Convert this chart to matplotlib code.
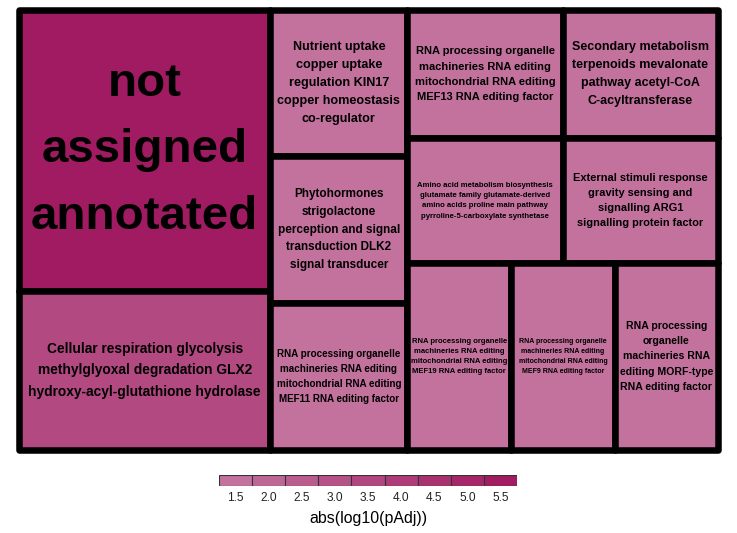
import matplotlib
matplotlib.use("Agg")
import matplotlib.pyplot as plt
from matplotlib.patches import Rectangle
from matplotlib.colors import LinearSegmentedColormap, Normalize

# tile labels (wrapped as in the figure), tile areas and abs(log10(pAdj))
labels = [
    "not\nassigned\nannotated",
    "Cellular respiration glycolysis\nmethylglyoxal degradation GLX2\nhydroxy-acyl-glutathione hydrolase",
    "Nutrient uptake\ncopper uptake\nregulation KIN17\ncopper homeostasis\nco-regulator",
    "Phytohormones\nstrigolactone\nperception and signal\ntransduction DLK2\nsignal transducer",
    "RNA processing organelle\nmachineries RNA editing\nmitochondrial RNA editing\nMEF11 RNA editing factor",
    "RNA processing organelle\nmachineries RNA editing\nmitochondrial RNA editing\nMEF13 RNA editing factor",
    "Secondary metabolism\nterpenoids mevalonate\npathway acetyl-CoA\nC-acyltransferase",
    "Amino acid metabolism biosynthesis\nglutamate family glutamate-derived\namino acids proline main pathway\npyrroline-5-carboxylate synthetase",
    "External stimuli response\ngravity sensing and\nsignalling ARG1\nsignalling protein factor",
    "RNA processing organelle\nmachineries RNA editing\nmitochondrial RNA editing\nMEF19 RNA editing factor",
    "RNA processing organelle\nmachineries RNA editing\nmitochondrial RNA editing\nMEF9 RNA editing factor",
    "RNA processing\norganelle\nmachineries RNA\nediting MORF-type\nRNA editing factor",
]
areas = [70.5, 39.9, 20.0, 20.1, 20.1, 19.9, 19.9, 19.3, 19.3, 19.4, 19.3, 19.3]
pvals = [5.55, 3.4, 1.5, 1.5, 1.5, 1.5, 1.5, 1.5, 1.5, 1.5, 1.5, 1.5]
breaks = [1.5, 2.0, 2.5, 3.0, 3.5, 4.0, 4.5, 5.0, 5.5]

# label font sizes (pt), fitted by eye per tile
label_pt = [34.2, 9.9, 9.1, 8.5, 7.1, 8.0, 9.0, 5.6, 7.9, 5.5, 5.0, 7.6]


def worst(row, side):
    s = sum(row)
    return max(max(side * side * r / (s * s), s * s / (side * side * r)) for r in row)


def squarify(vals, x, y, w, h):
    scale = w * h / sum(vals)
    a = [v * scale for v in vals]
    out = []
    i = 0
    while i < len(a):
        side = min(w, h)
        row = [a[i]]
        j = i + 1
        while j < len(a) and worst(row + [a[j]], side) <= worst(row, side):
            row.append(a[j])
            j += 1
        s = sum(row)
        if w >= h:
            cw = s / h
            yy = y
            for r in row:
                out.append((x, yy, cw, r / cw))
                yy += r / cw
            x += cw
            w -= cw
        else:
            rh = s / w
            xx = x
            for r in row:
                out.append((xx, y, r / rh, rh))
                xx += r / rh
            y += rh
            h -= rh
        i = j
    return out


cmap = LinearSegmentedColormap.from_list("pink", ["#c3739e", "#a01a60"])
norm = Normalize(vmin=1.45, vmax=5.6)

fig = plt.figure(figsize=(7.37, 5.33), dpi=100)
pos = [19 / 737, 83 / 533, 699 / 737, 440 / 533]
ax = fig.add_axes(pos)
W = pos[2] * 737
H = pos[3] * 533
ax.set_xlim(0, W)
ax.set_ylim(H, 0)
ax.axis("off")

for (x, y, w, h), lab, v, fs in zip(squarify(areas, 0, 0, W, H), labels, pvals, label_pt):
    ax.add_patch(Rectangle((x, y), w, h, facecolor=cmap(norm(v)), edgecolor="black",
                           linewidth=4.7, joinstyle="round", clip_on=False))
    ax.text(x + w / 2, y + h / 2, lab, ha="center", va="center", multialignment="center",
            fontsize=fs, fontweight="bold", family="Liberation Sans", linespacing=1.65,
            color="black")

# legend keys
lax = fig.add_axes([219 / 737, 47 / 533, 298 / 737, 11 / 533])
for i, b in enumerate(breaks):
    lax.add_patch(Rectangle((i, 0), 1, 1, facecolor=cmap(norm(b)), edgecolor="#333333",
                            linewidth=0.8))
lax.set_xlim(0, len(breaks))
lax.set_ylim(0, 1)
lax.set_xticks([i + 0.5 for i in range(len(breaks))])
lax.set_xticklabels([f"{b:.1f}" for b in breaks], family="Liberation Sans", fontsize=8.6,
                    color="#222222")
lax.tick_params(length=0, pad=4)
lax.set_yticks([])
for sp in lax.spines.values():
    sp.set_visible(False)
lax.set_xlabel("abs(log10(pAdj))", family="Liberation Sans", fontsize=11.4, labelpad=5)

fig.savefig("out.png", dpi=100)
